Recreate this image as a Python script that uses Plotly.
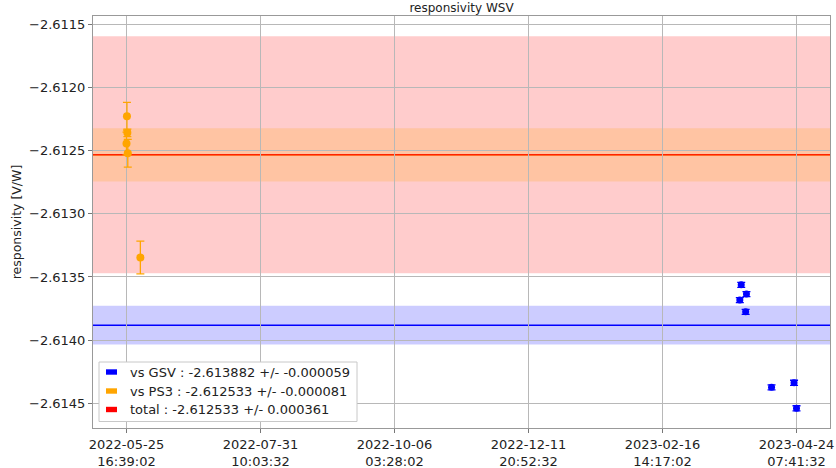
import numpy as np
import pandas as pd
import plotly.graph_objects as go

# Responsivity measurements of WSV against the GSV reference
gsv_dates = [
    "2023-03-27 02:15:00", "2023-03-27 19:00:00", "2023-03-29 23:50:00",
    "2023-03-30 09:30:00", "2023-04-11 21:30:00", "2023-04-23 02:15:00",
    "2023-04-24 07:41:32",
]
gsv_values = [-2.6136835, -2.6135625, -2.613776, -2.613636, -2.614374, -2.614338, -2.614540]
gsv_errors = [0.00002, 0.00002, 0.00002, 0.00002, 0.00002, 0.00002, 0.00002]

# Responsivity measurements of WSV against the PS3 reference
ps3_dates = [
    "2022-05-25 16:39:02", "2022-05-25 22:00:00", "2022-05-26 03:00:00",
    "2022-05-26 08:00:00", "2022-06-01 14:15:00",
]
ps3_values = [-2.612444, -2.612228, -2.612359, -2.612521, -2.613346]
ps3_errors = [0.00009, 0.00011, 0.00003, 0.00011, 0.00013]

# Summary values (mean and stated uncertainty) per comparison
series_names = ["vs GSV", "vs PS3", "total"]
series_means = [-2.613882, -2.612533, -2.612533]
series_uncert = [-0.000059, -0.000081, 0.000361]
series_colors = ["blue", "orange", "red"]
band_factor = 2.6

tick_labels = [
    "2022-05-25<br>16:39:02", "2022-07-31<br>10:03:32", "2022-10-06<br>03:28:02",
    "2022-12-11<br>20:52:32", "2023-02-16<br>14:17:02", "2023-04-24<br>07:41:32",
]

# --- layout geometry (pixels) ---
W, H = 836, 468
L, R, T, B = 93, 6, 16, 40
pw, ph = W - L - R, H - T - B


def px_x(p):
    return (p - L) / pw


def px_y(p):
    return (H - B - p) / ph


def hline(i):
    m = series_means[i]
    return dict(type="line", xref="x domain", x0=0, x1=1, yref="y", y0=m, y1=m,
                line=dict(color=series_colors[i], width=1.5), layer="below")


def band(i):
    m, u = series_means[i], abs(series_uncert[i])
    return dict(type="rect", xref="x domain", x0=0, x1=1, yref="y",
                y0=m - band_factor * u, y1=m + band_factor * u,
                fillcolor=series_colors[i], opacity=0.2, line=dict(width=0), layer="below")


all_dates = pd.to_datetime(gsv_dates + ps3_dates)
t_min, t_max = all_dates.min(), all_dates.max()
span = t_max - t_min
x_range = [t_min - 0.05 * span, t_max + 0.05 * span]
tick_vals = [t_min + span * f for f in np.linspace(0, 1, len(tick_labels))]

fig = go.Figure()

# stacking order: total band, PS3 line, total line, PS3 band, GSV band, GSV line
shapes = [band(2), hline(1), hline(2), band(1), band(0), hline(0)]

fig.add_trace(go.Scatter(
    x=pd.to_datetime(ps3_dates), y=ps3_values, mode="markers",
    marker=dict(color="orange", size=8),
    error_y=dict(type="data", array=ps3_errors, color="orange", thickness=1.3, width=4),
    showlegend=False,
))
fig.add_trace(go.Scatter(
    x=pd.to_datetime(gsv_dates), y=gsv_values, mode="markers",
    marker=dict(color="blue", size=7),
    error_y=dict(type="data", array=gsv_errors, color="blue", thickness=1.3, width=4),
    showlegend=False,
))

# legend box
annotations = []
shapes.append(dict(type="rect", xref="paper", yref="paper",
                   x0=px_x(99), x1=px_x(357), y0=px_y(421.5), y1=px_y(362),
                   fillcolor="white", line=dict(color="#c8c8c8", width=1), layer="above"))
row_y = [372, 391, 409.5]
for i, ry in enumerate(row_y):
    shapes.append(dict(type="rect", xref="paper", yref="paper",
                       x0=px_x(106), x1=px_x(117), y0=px_y(ry + 2.7), y1=px_y(ry - 2.7),
                       fillcolor=series_colors[i], line=dict(width=0), layer="above"))
    annotations.append(dict(
        xref="paper", yref="paper", x=px_x(128), y=px_y(ry), xanchor="left", yanchor="middle",
        text=f"{series_names[i]} : {series_means[i]:.6f} +/- {series_uncert[i]:.6f}",
        showarrow=False, font=dict(size=13, color="#222"),
    ))

axis_style = dict(
    showgrid=True, gridcolor="#b8b8b8", gridwidth=1,
    showline=True, linecolor="#999", linewidth=1, mirror=True,
    ticks="outside", ticklen=4, tickcolor="#777",
    zeroline=False, tickfont=dict(size=13, color="#222"),
)

fig.update_layout(
    width=W, height=H,
    margin=dict(l=L, r=R, t=T, b=B),
    paper_bgcolor="white", plot_bgcolor="white",
    font=dict(family="DejaVu Sans", color="#222"),
    title=dict(text="responsivity WSV", font=dict(size=12), x=px_x(461.5), xanchor="center",
               xref="paper", yref="container", y=1 - 8 / H, yanchor="middle"),
    shapes=shapes, annotations=annotations, showlegend=False,
)
fig.update_xaxes(type="date", range=x_range, tickmode="array", tickvals=tick_vals,
                 ticktext=tick_labels, automargin=False, **axis_style)
fig.update_yaxes(range=[-2.614696, -2.611434], tick0=-2.6115, dtick=0.0005, tickformat=".4f",
                 title=dict(text="responsivity [V/W]", font=dict(size=12.5), standoff=4),
                 automargin=False, **axis_style)

fig.write_html("out.html")
